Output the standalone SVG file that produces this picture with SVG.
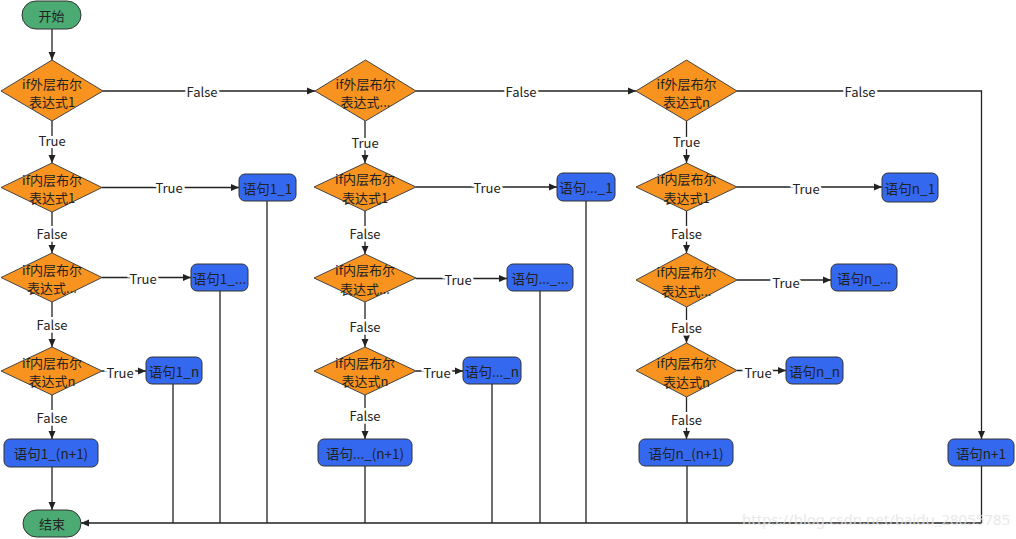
<svg xmlns="http://www.w3.org/2000/svg" width="1016" height="539" viewBox="0 0 1016 539">
<defs>
<marker id="arr" viewBox="0 0 8 8" refX="8" refY="4" markerWidth="8" markerHeight="8" markerUnits="userSpaceOnUse" orient="auto">
<path d="M0,0.5 L8,4 L0,7.5 z" fill="#222"/>
</marker>
<style>
.t{font-family:"Noto Sans CJK SC","Noto Sans",sans-serif;font-size:13px;fill:#222;text-anchor:middle;dominant-baseline:central}
.bt{font-size:13.5px}
.d{fill:#f7931e;stroke:#444;stroke-width:1}
.b{fill:#3468ee;stroke:#333;stroke-width:1}
.g{fill:#4cab72;stroke:#333;stroke-width:1}
.e{fill:none;stroke:#222;stroke-width:1.3}
.a{marker-end:url(#arr)}
.l{font-family:"Noto Sans CJK SC","Noto Sans",sans-serif;font-size:13px;fill:#222;text-anchor:middle;dominant-baseline:central;stroke:#fff;stroke-width:5;paint-order:stroke}
.w{font-family:"Noto Sans","Liberation Sans",sans-serif;font-size:15px;fill:#e4e4e4;opacity:0.8}
</style>
</defs>
<rect width="1016" height="539" fill="#fff"/>
<g id="connectors">
<path class="e a" d="M52,29 V60"/>
<path class="e a" d="M52,121 V163"/>
<path class="e a" d="M102,187.5 H239"/>
<path class="e a" d="M52,212 V253"/>
<path class="e a" d="M102,277.5 H191"/>
<path class="e a" d="M52,302 V347"/>
<path class="e a" d="M102,371 H146"/>
<path class="e a" d="M52,395 V439"/>
<path class="e a" d="M52,467 V510"/>
<path class="e a" d="M103,91 H315"/>
<path class="e a" d="M365,121 V163"/>
<path class="e a" d="M416,187 H557"/>
<path class="e a" d="M365,211 V254"/>
<path class="e a" d="M416,278.5 H507"/>
<path class="e a" d="M365,302 V347"/>
<path class="e a" d="M416,371 H463"/>
<path class="e a" d="M365,395 V439"/>
<path class="e a" d="M416,91 H636"/>
<path class="e a" d="M737,91 H981.5 V439"/>
<path class="e a" d="M686.5,121 V163"/>
<path class="e a" d="M737,187 H882"/>
<path class="e a" d="M686.5,211 V253"/>
<path class="e a" d="M737,280 H831"/>
<path class="e a" d="M686.5,307 V343"/>
<path class="e a" d="M737,370.5 H786"/>
<path class="e a" d="M686.5,397 V439"/>
<path class="e a" d="M981.5,466 V523 H81"/>
<path class="e" d="M173,384 V523 M220,291 V523 M267,201 V523 M365,466 V523 M492,384 V523 M540,291 V523 M586,201 V523 M687,466 V523"/>
<text class="l" x="52" y="140">True</text>
<text class="l" x="169" y="187.5">True</text>
<text class="l" x="52" y="233">False</text>
<text class="l" x="143" y="278.5">True</text>
<text class="l" x="52" y="324">False</text>
<text class="l" x="120" y="372">True</text>
<text class="l" x="52" y="417">False</text>
<text class="l" x="202" y="91.5">False</text>
<text class="l" x="365" y="142">True</text>
<text class="l" x="487" y="187.5">True</text>
<text class="l" x="365" y="233">False</text>
<text class="l" x="458" y="279">True</text>
<text class="l" x="365" y="326">False</text>
<text class="l" x="437" y="372">True</text>
<text class="l" x="365" y="415">False</text>
<text class="l" x="521" y="91.5">False</text>
<text class="l" x="860" y="91.5">False</text>
<text class="l" x="686.5" y="141">True</text>
<text class="l" x="806" y="188">True</text>
<text class="l" x="686.5" y="233">False</text>
<text class="l" x="786" y="282">True</text>
<text class="l" x="686.5" y="327">False</text>
<text class="l" x="758" y="372">True</text>
<text class="l" x="686.5" y="419">False</text>
</g>
<g id="start"><rect class="g" x="22" y="1" width="59" height="28" rx="14"/><text class="t" x="51.5" y="15">开始</text></g>
<g id="end"><rect class="g" x="23" y="510" width="58" height="27" rx="13.5"/><text class="t" x="52" y="523.5">结束</text></g>
<g id="outer1"><polygon class="d" points="1,91 52,60 103,91 52,121"/><text class="t" x="52" y="83.5">if外层布尔</text><text class="t" x="52" y="101">表达式1</text></g>
<g id="inner1_1"><polygon class="d" points="1,187.5 52,163 102,187.5 52,212"/><text class="t" x="52" y="179">if内层布尔</text><text class="t" x="52" y="197.5">表达式1</text></g>
<g id="inner1_2"><polygon class="d" points="1,277.5 52,253 102,277.5 52,302"/><text class="t" x="52" y="269">if内层布尔</text><text class="t" x="52" y="287.5">表达式...</text></g>
<g id="inner1_3"><polygon class="d" points="1,371 52,347 102,371 52,395"/><text class="t" x="52" y="362">if内层布尔</text><text class="t" x="52" y="380.5">表达式n</text></g>
<g id="box1_1"><rect class="b" x="239" y="174" width="57" height="27" rx="6"/><text class="t bt" x="267.5" y="187.5">语句1_1</text></g>
<g id="box1_2"><rect class="b" x="191" y="264" width="57" height="27" rx="6"/><text class="t bt" x="219.5" y="277.5">语句1_...</text></g>
<g id="box1_n"><rect class="b" x="146" y="357" width="56" height="27" rx="6"/><text class="t bt" x="174" y="370.5">语句1_n</text></g>
<g id="box1_n1"><rect class="b" x="4" y="439" width="94" height="28" rx="6"/><text class="t bt" x="51" y="453">语句1_(n+1)</text></g>
<g id="outer2"><polygon class="d" points="315,91 365.5,60 416,91 365.5,121"/><text class="t" x="365.5" y="83.5">if外层布尔</text><text class="t" x="365.5" y="101">表达式...</text></g>
<g id="inner2_1"><polygon class="d" points="314,187 365,163 416,187 365,211"/><text class="t" x="365" y="178.5">if内层布尔</text><text class="t" x="365" y="197">表达式1</text></g>
<g id="inner2_2"><polygon class="d" points="314,278 365,254 416,278 365,302"/><text class="t" x="365" y="269.5">if内层布尔</text><text class="t" x="365" y="288">表达式...</text></g>
<g id="inner2_3"><polygon class="d" points="314,371 365,347 416,371 365,395"/><text class="t" x="365" y="362">if内层布尔</text><text class="t" x="365" y="380.5">表达式n</text></g>
<g id="box2_1"><rect class="b" x="557" y="173" width="58" height="28" rx="6"/><text class="t bt" x="586" y="187">语句..._1</text></g>
<g id="box2_2"><rect class="b" x="507" y="264" width="66" height="27" rx="6"/><text class="t bt" x="540" y="277.5">语句..._...</text></g>
<g id="box2_n"><rect class="b" x="463" y="357" width="58" height="27" rx="6"/><text class="t bt" x="492" y="370.5">语句..._n</text></g>
<g id="box2_n1"><rect class="b" x="318" y="439" width="94" height="27" rx="6"/><text class="t bt" x="365" y="452.5">语句..._(n+1)</text></g>
<g id="outer3"><polygon class="d" points="636,91 686.5,60 737,91 686.5,121"/><text class="t" x="686.5" y="83.5">if外层布尔</text><text class="t" x="686.5" y="101">表达式n</text></g>
<g id="inner3_1"><polygon class="d" points="636,187 686.5,163 737,187 686.5,211"/><text class="t" x="686.5" y="178.5">if内层布尔</text><text class="t" x="686.5" y="197">表达式1</text></g>
<g id="inner3_2"><polygon class="d" points="636,280 686.5,253 737,280 686.5,307"/><text class="t" x="686.5" y="271">if内层布尔</text><text class="t" x="686.5" y="290">表达式...</text></g>
<g id="inner3_3"><polygon class="d" points="636,370.5 686.5,343 737,370.5 686.5,397"/><text class="t" x="686.5" y="362">if内层布尔</text><text class="t" x="686.5" y="381">表达式n</text></g>
<g id="box3_1"><rect class="b" x="882" y="173" width="56" height="29" rx="6"/><text class="t bt" x="910" y="187.5">语句n_1</text></g>
<g id="box3_2"><rect class="b" x="831" y="264" width="66" height="27" rx="6"/><text class="t bt" x="864" y="277.5">语句n_...</text></g>
<g id="box3_n"><rect class="b" x="786" y="357" width="57" height="27" rx="6"/><text class="t bt" x="814.5" y="370.5">语句n_n</text></g>
<g id="box3_n1"><rect class="b" x="639" y="439" width="94" height="27" rx="6"/><text class="t bt" x="686" y="452.5">语句n_(n+1)</text></g>
<g id="box_n1"><rect class="b" x="948" y="439" width="66" height="27" rx="6"/><text class="t bt" x="981" y="452.5">语句n+1</text></g>
<text class="w" x="742" y="525">https://blog.csdn.net/baidu_28055785</text>
</svg>
